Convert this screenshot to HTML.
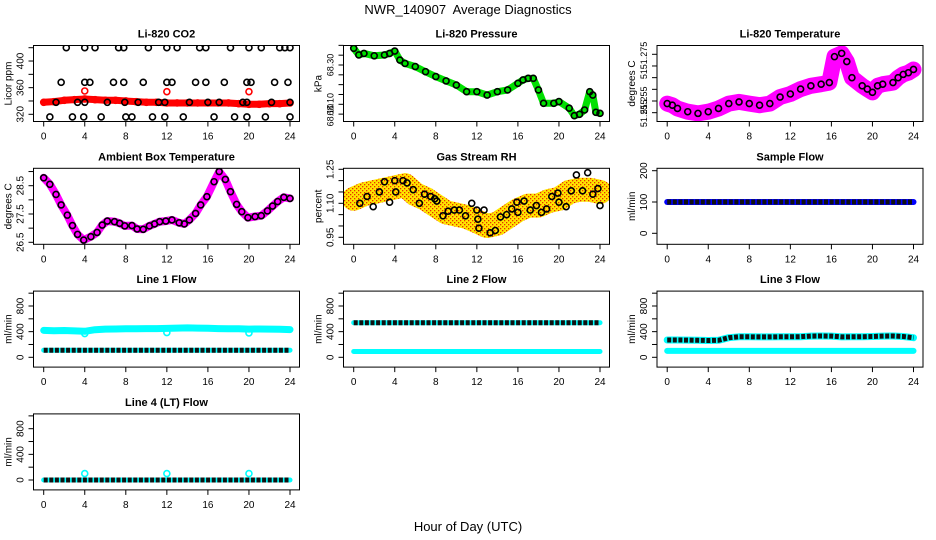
<!DOCTYPE html>
<html><head><meta charset="utf-8"><style>
html,body{margin:0;padding:0;background:#fff;}
svg{display:block;font-family:"Liberation Sans",sans-serif;}
</style></head><body>
<svg id="chart" width="936" height="540" viewBox="0 0 936 540">
<defs>
<pattern id="rhpat" width="4" height="4" patternUnits="userSpaceOnUse">
<rect width="4" height="4" fill="#ffe600"/><rect width="1.3" height="1.3" fill="#e83000"/><rect x="2" y="2" width="1.3" height="1.3" fill="#e83000"/>
</pattern>
</defs>
<rect width="936" height="540" fill="#fff"/>
<text x="468" y="14" text-anchor="middle" font-size="13" xml:space="preserve">NWR_140907&#160; Average Diagnostics</text>
<text x="468" y="531" text-anchor="middle" font-size="13">Hour of Day (UTC)</text>
</svg>
<script>
// ---- data ----
const hrs = [0,1,2,3,4,5,6,7,8,9,10,11,12,13,14,15,16,17,18,19,20,21,22,23,24];
const xTicks = [0,4,8,12,16,20,24];

const co2Red = [338,339,341,342,343,342,341,341,340,339,338,338,337,337,337,337,337,337,337,336,335,335,336,336,337];
const co2OutT = [4,12,20];
const co2OutV = [355,354,354];
const co2BlkT = [2.2,4,5,7.3,7.8,10.2,12,13,15.2,15.8,18.2,20,21.2,23,23.5,24, 1.7,4,4.5,6.8,7.8,9.7,12,12.5,14.8,15.8,17.6,19.8,20.2,22.5,23.8, 0.6,2.8,3.9,5.6,8,8.6,10.6,11.8,13.6,16.6,18.6,19.8,21.6,24, 1.2,3.3,4,6.2,7.9,9.2,11.2,11.8,14.2,16,17.1,19.4,19.8,22.2,24];
const co2BlkV = [420,420,420,420,420,420,420,420,420,420,420,420,420,420,420,420, 368,368,368,368,368,368,368,368,368,368,368,368,368,368,368, 316,316,316,316,316,316,316,316,316,316,316,316,316,316, 338,338,338,338,338,338,338,338,338,338,338,338,338,338,338];
const co2Ticks = [320,340,360,380,400,420];
const co2Labels = [320,360,400];

const presT = [0,0.5,1,2,3,3.5,4,4.5,5,6,7,8,9,10,11,12,13,14,15,16,16.5,17,17.5,18,18.5,19.5,20,21,21.5,22,22.5,23,23.3,23.6,24];
const presV = [68.385,68.351,68.359,68.347,68.351,68.359,68.371,68.325,68.308,68.292,68.266,68.241,68.219,68.198,68.164,68.164,68.147,68.164,68.173,68.207,68.224,68.232,68.232,68.173,68.105,68.105,68.114,68.080,68.042,68.049,68.071,68.164,68.147,68.059,68.054];
const presTicks = [68.05,68.10,68.15,68.20,68.25,68.30,68.35,68.40];
const presLabelV = [68.30,68.10,68.045];
const presLabelT = ["68.30","68.10","68.10"];

const tempT = [0,0.5,1,2,3,4,5,6,7,8,9,10,11,12,13,14,15,15.8,16.3,17,17.5,18,19,19.5,20,20.5,21,22,22.5,23,23.5,24];
const tempV = [51.2539,51.2532,51.2518,51.2504,51.2497,51.2504,51.2518,51.2539,51.2546,51.2539,51.2532,51.2539,51.2567,51.2580,51.2601,51.2615,51.2622,51.2629,51.2740,51.2754,51.2719,51.2650,51.2615,51.2601,51.2587,51.2615,51.2622,51.2629,51.2650,51.2664,51.2671,51.2685];
const tempTicks = [51.250,51.255,51.260,51.265,51.270,51.275];
const tempLabelV = [51.2745,51.2665,51.2553,51.2497];
const tempLabelT = ["51.275","51","51.255","51.255"];

const ambT = [0,0.6,1.2,1.7,2.3,2.8,3.3,3.9,4.6,5.2,5.7,6.2,6.9,7.4,7.9,8.6,9.1,9.7,10.3,10.8,11.3,11.9,12.5,13.2,13.7,14.2,14.8,15.3,15.9,16.6,17.1,17.7,18.2,18.8,19.3,19.9,20.6,21.2,21.8,22.3,22.8,23.4,24];
const ambV = [28.78,28.55,28.19,27.82,27.46,27.09,26.78,26.58,26.70,26.85,27.11,27.25,27.23,27.17,27.08,27.09,26.97,26.96,27.08,27.15,27.23,27.25,27.29,27.19,27.15,27.29,27.52,27.82,28.11,28.64,29.0,28.72,28.29,27.84,27.58,27.37,27.41,27.44,27.61,27.78,27.94,28.09,28.05];
const ambTicks = [26.5,27.0,27.5,28.0,28.5,29.0];
const ambLabels = [26.5,27.5,28.5];

const rhV = [1.12,1.14,1.15,1.16,1.17,1.18,1.14,1.12,1.09,1.06,1.05,1.04,1.02,1.00,1.01,1.04,1.07,1.09,1.09,1.11,1.12,1.15,1.16,1.16,1.15];
const rhBlkT = [0.6,1.3,1.9,2.5,3,3.5,4,4.1,4.8,5.2,5.8,6.4,6.9,7.5,7.9,8.1,8.7,9.2,9.8,10.3,10.9,11.5,12,12.1,12.2,12.7,13.3,13.8,14.3,14.9,15.4,15.9,16,16.6,17.2,17.8,18.3,18.8,19.3,19.9,20,20.7,21.2,21.7,22.3,22.8,23.3,23.8,24];
const rhBlkV = [1.10,1.13,1.085,1.15,1.195,1.105,1.20,1.15,1.20,1.19,1.16,1.10,1.14,1.13,1.12,1.11,1.045,1.065,1.07,1.07,1.045,1.10,1.07,1.03,0.99,1.07,0.97,0.98,1.04,1.05,1.075,1.105,1.06,1.11,1.07,1.09,1.06,1.075,1.13,1.145,1.105,1.085,1.155,1.225,1.155,1.235,1.14,1.165,1.09];
const rhTicks = [0.95,1.00,1.05,1.10,1.15,1.20,1.25];
const rhLabels = [0.95,1.10,1.25];

const sampBlue = [100,100,100,100,100,100,100,100,100,100,100,100,100,100,100,100,100,100,100,100,100,100,100,100,100];
const sampBlk  = [100,100,100,100,100,100,100,100,100,100,100,100,100,100,100,100,100,100,100,100,100,100,100,100,100];
const sampTicks = [0,100,200];

const l1Cyan = [420,415,418,412,405,430,440,442,445,445,448,448,450,455,458,456,452,448,445,445,440,442,440,438,432];
const l1Blk  = [110,110,110,110,110,110,110,110,110,110,110,110,110,110,110,110,110,110,110,110,110,110,110,110,110];
const l1OutT = [4,12,20];
const l1OutV = [370,385,380];
const l2Blk  = [540,540,540,540,540,540,540,540,540,540,540,540,540,540,540,540,540,540,540,540,540,540,540,540,540];
const l2Cyan = [90,90,90,90,90,90,90,90,90,90,90,90,90,90,90,90,90,90,90,90,90,90,90,90,90];
const l3Blk  = [270,270,268,265,262,265,305,320,320,318,318,320,320,322,330,332,330,318,320,322,325,330,332,325,305];
const l3Cyan = [100,100,100,100,100,100,100,100,100,100,100,100,100,100,100,100,100,100,100,100,100,100,100,100,100];
const l4Blk  = [0,0,0,0,0,0,0,0,0,0,0,0,0,0,0,0,0,0,0,0,0,0,0,0,0];
const l4OutT = [4,12,20];
const l4OutV = [100,100,100];
const flowTicks = [0,200,400,600,800,1000];
const flowLabels = [0,400,800];

// ---- drawing ----
const svg = document.getElementById('chart');
const NS = 'http://www.w3.org/2000/svg';
const colLeft = [33.5, 343.5, 657];
const rowTop = [45.5, 168.3, 291.1, 413.9];
const BW = 266, BH = 76;

function mk(tag, attrs, parent) {
  const e = document.createElementNS(NS, tag);
  for (const k in attrs) e.setAttribute(k, attrs[k]);
  (parent || svg).appendChild(e);
  return e;
}

function makePanel(col, row, title, ylab, v0, p0, v1, p1) {
  const L = colLeft[col], T = rowTop[row];
  const g = mk('g', {});
  
  
  const xs = h => L + 10.2 + h * (256.5 - 10.2) / 24;
  const ys = v => T + p0 + (v - v0) * (p1 - p0) / (v1 - v0);
  const clipId = 'clip' + col + row;
  const cp = mk('clipPath', {id: clipId}, g);
  mk('rect', {x: L, y: T, width: BW, height: BH}, cp);
  const plot = mk('g', {'clip-path': 'url(#' + clipId + ')'}, g);
  
  
  const box = mk('rect', {x: L, y: T, width: BW, height: BH, fill: 'none', stroke: '#000', 'stroke-width': 1}, g);
  
  
  const t = mk('text', {x: L + BW / 2, y: T - 8, 'text-anchor': 'middle', 'font-size': 11, 'font-weight': 'bold'}, g);
  t.textContent = title;
  
  
  const yl = mk('text', {x: 0, y: 0, transform: 'translate(' + (L - 22) + ',' + (T + BH / 2) + ') rotate(-90)', 'text-anchor': 'middle', 'font-size': 10}, g);
  yl.textContent = ylab;
  
  
  const xa = mk('g', {}, g);
  
  
  xTicks.forEach(h => {
    mk('line', {x1: xs(h), x2: xs(h), y1: T + BH, y2: T + BH + 5, stroke: '#000'}, xa);
    const tl = mk('text', {x: xs(h), y: T + BH + 18, 'text-anchor': 'middle', 'font-size': 10}, xa);
    tl.textContent = h;
    
    
  });
  const ya = mk('g', {}, g);
  
  
  return {L, T, xs, ys, plot, ya};
}

function yAxis(P, ticks, labelVals, labelTexts, fs) {
  ticks.forEach(v => mk('line', {x1: P.L - 5, x2: P.L, y1: P.ys(v), y2: P.ys(v), stroke: '#000'}, P.ya));
  labelVals.forEach((v, i) => {
    const tl = mk('text', {x: 0, y: 0, transform: 'translate(' + (P.L - 10) + ',' + P.ys(v) + ') rotate(-90)', 'text-anchor': 'middle', 'font-size': fs || 10}, P.ya);
    tl.textContent = labelTexts ? labelTexts[i] : String(v);
    
    
  });
}

function band(P, ts, vs, color, width, name) {
  const pts = ts.map((t, i) => P.xs(t).toFixed(1) + ',' + P.ys(vs[i]).toFixed(1)).join(' ');
  const pl = mk('polyline', {points: pts, fill: 'none', stroke: color, 'stroke-width': width, 'stroke-linejoin': 'round', 'stroke-linecap': 'round'}, P.plot);
  
  
}

function chain(P, ts, vs, name) {
  const pts = ts.map((t, i) => P.xs(t).toFixed(1) + ',' + P.ys(vs[i]).toFixed(1)).join(' ');
  const pl = mk('polyline', {points: pts, fill: 'none', stroke: '#111', 'stroke-width': 5, 'stroke-dasharray': '4 1.6'}, P.plot);
  
  
}

function pts(P, ts, vs, color, r, name) {
  ts.forEach((t, i) => {
    const c = mk('circle', {cx: P.xs(t), cy: P.ys(vs[i]), r: r, fill: 'none', stroke: color, 'stroke-width': 1.6}, P.plot);
    
    
  });
}

// Panel 1: CO2
let P = makePanel(0, 0, 'Li-820 CO2', 'Licor ppm', 320, 68.8, 420, 2.2);
yAxis(P, co2Ticks, co2Labels);
band(P, hrs, co2Red, '#ff0000', 7, 'co2-red-band');
pts(P, hrs, co2Red, '#ff0000', 3, 'co2-red-point');
pts(P, co2OutT, co2OutV, '#ff0000', 3, 'co2-red-outlier');
pts(P, co2BlkT, co2BlkV, '#000', 3, 'co2-black-point');

// Panel 2: Pressure
P = makePanel(1, 0, 'Li-820 Pressure', 'kPa', 68.30, 19.5, 68.10, 58.8);
yAxis(P, presTicks, presLabelV, presLabelT, 9);
band(P, presT, presV, '#00e000', 7, 'pressure-green-band');
pts(P, presT, presV, '#000', 3, 'pressure-black-point');

// Panel 3: Temperature
P = makePanel(2, 0, 'Li-820 Temperature', 'degrees C', 51.275, 8.8, 51.255, 55.5);
yAxis(P, tempTicks, tempLabelV, tempLabelT, 9);
band(P, tempT, tempV, '#ff00ff', 16, 'temperature-magenta-band');
pts(P, tempT, tempV, '#000', 3, 'temperature-black-point');

// Panel 4: Ambient
P = makePanel(0, 1, 'Ambient Box Temperature', 'degrees C', 28.5, 17.4, 26.5, 74);
yAxis(P, ambTicks, ambLabels);
band(P, ambT, ambV, '#ff00ff', 8, 'ambient-magenta-band');
pts(P, ambT, ambV, '#000', 3, 'ambient-black-point');

// Panel 5: RH
P = makePanel(1, 1, 'Gas Stream RH', 'percent', 1.25, 1, 0.95, 69);
yAxis(P, rhTicks, rhLabels, ['0.95', '1.10', '1.25']);
band(P, hrs, rhV, 'url(#rhpat)', 24, 'rh-band');
pts(P, rhBlkT, rhBlkV, '#000', 3, 'rh-black-point');

// Panel 6: Sample flow
P = makePanel(2, 1, 'Sample Flow', 'ml/min', 0, 65, 200, 2.4);
yAxis(P, sampTicks, sampTicks);
band(P, hrs, sampBlue, '#0000ff', 6, 'sample-blue-band');
chain(P, hrs, sampBlk, 'sample-black-series');

// Panel 7: Line 1
P = makePanel(0, 2, 'Line 1 Flow', 'ml/min', 0, 66.2, 800, 14.9);
yAxis(P, flowTicks, flowLabels);
band(P, hrs, l1Cyan, '#00ffff', 7, 'line1-cyan-band');
band(P, hrs, l1Blk, '#00ffff', 5, 'line1-cyan-low');
pts(P, l1OutT, l1OutV, '#00ffff', 3, 'line1-cyan-outlier');
chain(P, hrs, l1Blk, 'line1-black-series');

// Panel 8: Line 2
P = makePanel(1, 2, 'Line 2 Flow', 'ml/min', 0, 66.2, 800, 14.9);
yAxis(P, flowTicks, flowLabels);
band(P, hrs, l2Cyan, '#00ffff', 5, 'line2-cyan-band');
band(P, hrs, l2Blk, '#00ffff', 5, 'line2-cyan-high');
chain(P, hrs, l2Blk, 'line2-black-series');

// Panel 9: Line 3
P = makePanel(2, 2, 'Line 3 Flow', 'ml/min', 0, 66.2, 800, 14.9);
yAxis(P, flowTicks, flowLabels);
band(P, hrs, l3Cyan, '#00ffff', 6, 'line3-cyan-band');
band(P, hrs, l3Blk, '#00ffff', 7, 'line3-cyan-high');
chain(P, hrs, l3Blk, 'line3-black-series');

// Panel 10: Line 4
P = makePanel(0, 3, 'Line 4 (LT) Flow', 'ml/min', 0, 66.1, 800, 14.8);
yAxis(P, flowTicks, flowLabels);
band(P, hrs, l4Blk, '#00ffff', 5, 'line4-cyan-band');
pts(P, l4OutT, l4OutV, '#00ffff', 3, 'line4-cyan-outlier');
chain(P, hrs, l4Blk, 'line4-black-series');
</script>
</body></html>
